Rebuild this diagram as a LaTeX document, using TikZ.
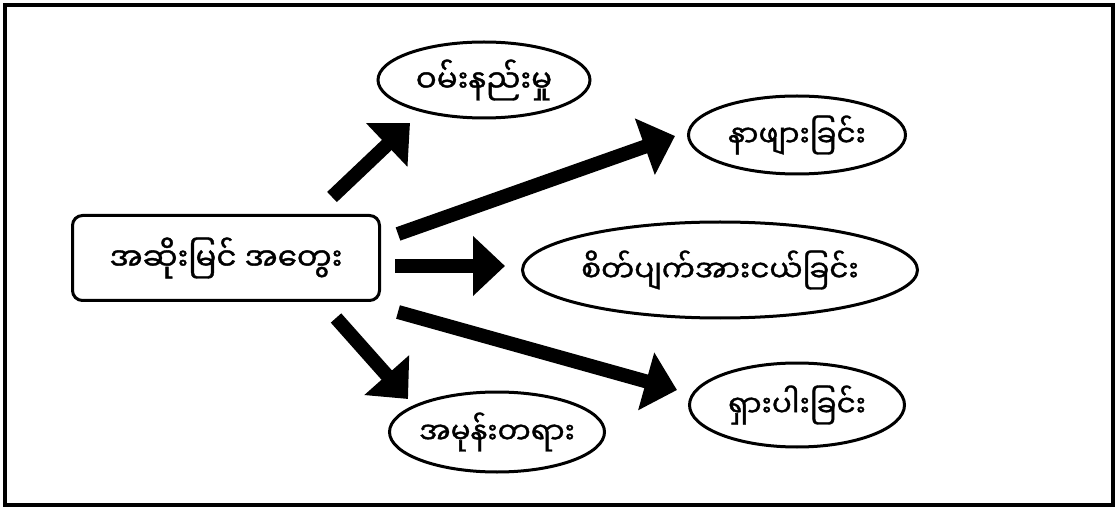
\documentclass[tikz,border=0pt]{standalone}
\usepackage{fontspec}
\newfontfamily\mya[Script=Myanmar, AutoFakeBold=1.2]{Noto Sans Myanmar UI}
\usetikzlibrary{arrows.meta,shapes.geometric}
\newcommand{\ctext}[1]{\makebox[0pt][c]{#1}}
\begin{document}
\begin{tikzpicture}[x=1pt,y=-1pt,
  lbl/.style={font=\mya\bfseries\fontsize{29.5}{36}\selectfont, text=black},
  oval/.style={draw=black, line width=3pt, ellipse, inner sep=0pt, lbl},
  fat/.style={line width=14pt, -{Triangle[length=32pt,width=58pt]}, black}]
\useasboundingbox (0,0) rectangle (1118,510);
\draw[line width=4pt] (5,5) rectangle (1113,505);
\node[draw, line width=3pt, rounded corners=10pt, minimum width=307pt, minimum height=85pt, inner sep=0pt, lbl, font=\mya\bfseries\fontsize{31}{37}\selectfont] (src) at (226,258) {\ctext{အဆိုးမြင် အတွေး}};
\node[oval, minimum width=212pt, minimum height=76pt, font=\mya\bfseries\fontsize{31}{37}\selectfont] (sad) at (484,80) {\ctext{ဝမ်းနည်းမှု}};
\node[oval, minimum width=217pt, minimum height=78pt] (ill) at (797,135) {\ctext{နာဖျားခြင်း}};
\node[oval, minimum width=395pt, minimum height=96pt] (disc) at (720,270) {\ctext{စိတ်ပျက်အားငယ်ခြင်း}};
\node[oval, minimum width=215pt, minimum height=84pt] (rare) at (797,405) {\ctext{ရှားပါးခြင်း}};
\node[oval, minimum width=215pt, minimum height=80pt] (hate) at (497,432) {\ctext{အမုန်းတရား}};
\coordinate (s1) at (332,197); \coordinate (e1) at (410,123);
\coordinate (s2) at (398,234); \coordinate (e2) at (675,136);
\coordinate (s3) at (395,266); \coordinate (e3) at (505,266);
\coordinate (s4) at (398,312); \coordinate (e4) at (677,390);
\coordinate (s5) at (336,318); \coordinate (e5) at (408,399);
\draw[fat] (s1) -- (e1);
\draw[fat] (s2) -- (e2);
\draw[fat] (s3) -- (e3);
\draw[fat] (s4) -- (e4);
\draw[fat] (s5) -- (e5);
\end{tikzpicture}
\end{document}
